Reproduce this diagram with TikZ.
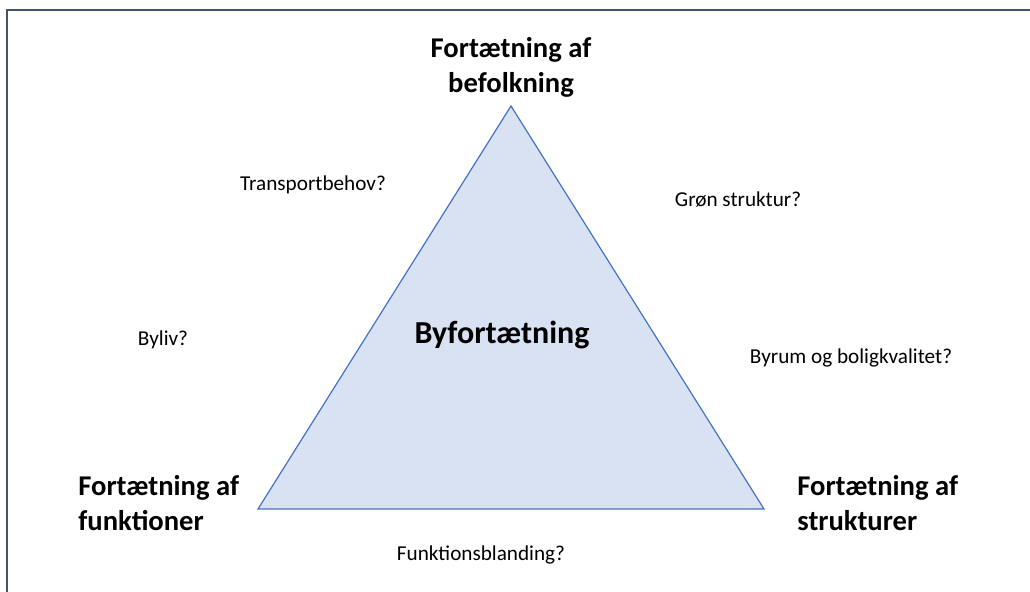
\documentclass[tikz,border=0pt]{standalone}
\usepackage{fontspec}
\setmainfont{Carlito}
\usetikzlibrary{positioning}
\definecolor{trifill}{HTML}{D9E2F3}
\definecolor{triline}{HTML}{4472C4}
\definecolor{frameline}{HTML}{44546A}
\tikzset{
  corner/.style={font=\bfseries\fontsize{14.3}{17.5}\selectfont, align=left, inner sep=0pt},
  question/.style={font=\fontsize{10.6}{13}\selectfont, inner sep=0pt}
}

\begin{document}
\begin{tikzpicture}[x=0.5pt,y=-0.5pt]
\useasboundingbox (0,0) rectangle (1030,592);
\draw[frameline,line width=1pt] (7,592) -- (7,10) -- (1030,10);

\coordinate (top) at (511,106);
\coordinate (left) at (258,509);
\coordinate (right) at (764,509);
\filldraw[fill=trifill,draw=triline,line width=0.6pt,line join=miter] (top) -- (left) -- (right) -- cycle;

\node[corner,align=center] (befolkning) at (511,67) {Fortætning af\\befolkning};
\node[corner,anchor=west] (funktioner) at (78,503) {Fortætning af\\funktioner};
\node[corner,anchor=west] (strukturer) at (797,503) {Fortætning af\\strukturer};
\node[font=\bfseries\fontsize{16}{19}\selectfont,inner sep=0pt] (byfort) at (502,335) {Byfortætning};

\node[question] (transport) at (313,185) {Transportbehov?};
\node[question] (groen) at (738,200) {Grøn struktur?};
\node[question] (byliv) at (163,340) {Byliv?};
\node[question] (byrum) at (851,358) {Byrum og boligkvalitet?};
\node[question] (blanding) at (481,555) {Funktionsblanding?};
\end{tikzpicture}
\end{document}
